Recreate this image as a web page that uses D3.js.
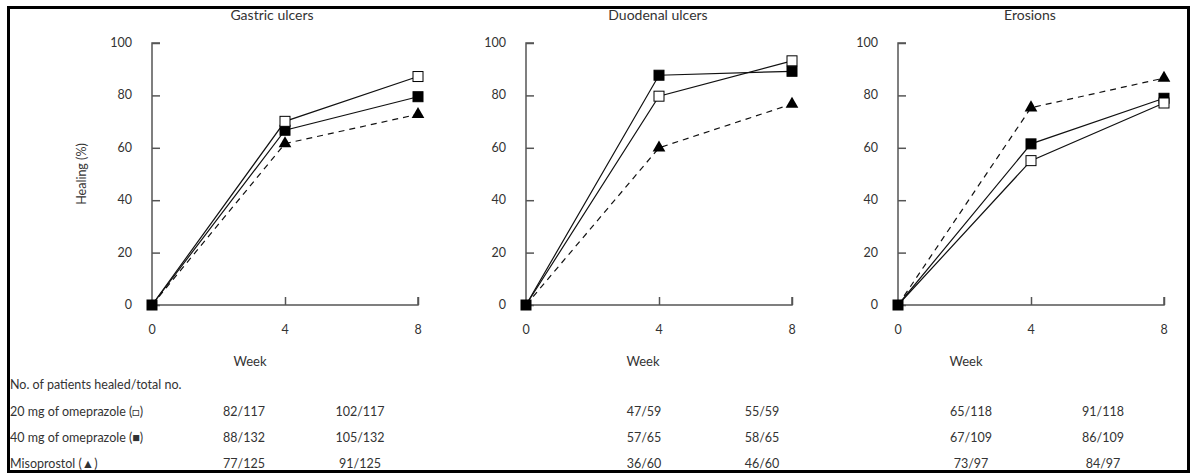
<!DOCTYPE html>
<html>
<head>
<meta charset="utf-8">
<script src="https://cdn.jsdelivr.net/npm/d3@7"></script>
<style>
  body { margin: 0; background: #fff; }
  text { font-family: Lato, "Open Sans", sans-serif; fill: #333; }
</style>
</head>
<body>
<script>
// data
const weeks = [0, 4, 8];
const panelTitles = ["Gastric ulcers", "Duodenal ulcers", "Erosions"];
const yTicks = [0, 20, 40, 60, 80, 100];

// healing (%) per panel, at weeks 0, 4, 8
const omeprazole20 = [[0, 70.1, 87.2], [0, 79.7, 93.2], [0, 55.1, 77.1]];
const omeprazole40 = [[0, 66.7, 79.5], [0, 87.7, 89.2], [0, 61.5, 78.9]];
const misoprostol = [[0, 61.6, 72.8], [0, 60.0, 76.7], [0, 75.3, 86.6]];

// table: healed/total at week 4 and week 8 for each panel
const tableHeader = "No. of patients healed/total no.";
const rowLabels = ["20 mg of omeprazole (\u25A1)", "40 mg of omeprazole (\u25A0)", "Misoprostol (\u25B2)"];
const counts20 = ["82/117", "102/117", "47/59", "55/59", "65/118", "91/118"];
const counts40 = ["88/132", "105/132", "57/65", "58/65", "67/109", "86/109"];
const countsMiso = ["77/125", "91/125", "36/60", "46/60", "73/97", "84/97"];

const width = 1193, height = 475;
const svg = d3.select("body").append("svg")
    .attr("width", width)
    .attr("height", height);

// outer frame
svg.append("rect")
    .attr("x", 8.5).attr("y", 7.5)
    .attr("width", 1180).attr("height", 464)
    .attr("fill", "none")
    .attr("stroke", "#000")
    .attr("stroke-width", 3);

const axisLeft = [152, 526, 898];
const plotW = 266;
const weekLabelX = [250, 643, 966];
const titleX = [272, 658, 1030];
const fs = 12.5;
const y = d3.scaleLinear().domain([0, 100]).range([305, 43]);

const series = [
    { values: omeprazole40, dash: null, marker: "filled" },
    { values: misoprostol, dash: "6,5", marker: "triangle" },
    { values: omeprazole20, dash: null, marker: "open" }
];

panelTitles.forEach((title, p) => {
    const x = d3.scaleLinear().domain([0, 8]).range([axisLeft[p], axisLeft[p] + plotW]);
    const g = svg.append("g");

    g.append("text")
        .attr("x", titleX[p])
        .attr("y", 20)
        .attr("text-anchor", "middle")
        .attr("font-size", 14)
        .text(title);

    // y axis, ticks pointing inward
    const yAxis = g.append("g")
        .attr("transform", `translate(${axisLeft[p]},0)`)
        .call(d3.axisRight(y).tickValues(yTicks).tickSize(8).tickFormat(""));
    yAxis.select(".domain").attr("d", `M8,${y(100)}H0V${y(0)}`);
    yAxis.selectAll("line, path").attr("stroke", "#555").attr("stroke-width", 1.5);
    g.selectAll(".ylab").data(yTicks).join("text")
        .attr("x", axisLeft[p] - 20)
        .attr("y", d => y(d) + 4)
        .attr("text-anchor", "end")
        .attr("font-size", fs)
        .text(d => d);

    // x axis, ticks pointing up
    const xAxis = g.append("g")
        .attr("transform", `translate(0,${y(0)})`)
        .call(d3.axisTop(x).tickValues([4, 8]).tickSize(8).tickFormat(""));
    xAxis.select(".domain").attr("d", `M${x(0)},0H${x(8)}V-8`);
    xAxis.selectAll("line, path").attr("stroke", "#555").attr("stroke-width", 1.5);
    g.selectAll(".xlab").data(weeks).join("text")
        .attr("x", d => x(d))
        .attr("y", 334)
        .attr("text-anchor", "middle")
        .attr("font-size", fs)
        .text(d => d);

    g.append("text")
        .attr("x", weekLabelX[p])
        .attr("y", 366)
        .attr("text-anchor", "middle")
        .attr("font-size", 13)
        .text("Week");

    const line = d3.line().x((d, i) => x(weeks[i])).y(d => y(d));

    series.forEach(s => {
        g.append("path")
            .datum(s.values[p])
            .attr("d", line)
            .attr("fill", "none")
            .attr("stroke", "#111")
            .attr("stroke-width", 1.2)
            .attr("stroke-dasharray", s.dash);
    });

    // markers
    series.forEach(s => {
        const pts = s.values[p].map((v, i) => [x(weeks[i]), y(v)]);
        if (s.marker === "triangle") {
            g.selectAll(null).data(pts.slice(1)).join("path")
                .attr("d", d3.symbol(d3.symbolTriangle, 70))
                .attr("transform", d => `translate(${d[0]},${d[1]})`)
                .attr("fill", "#000");
        } else {
            g.selectAll(null).data(pts.slice(s.marker === "open" ? 1 : 0)).join("rect")
                .attr("x", d => d[0] - 5)
                .attr("y", d => d[1] - 5)
                .attr("width", 10)
                .attr("height", 10)
                .attr("fill", s.marker === "open" ? "#fff" : "#000")
                .attr("stroke", "#000")
                .attr("stroke-width", 1);
        }
    });
});

// y axis label, first panel only
svg.append("text")
    .attr("transform", `translate(86,${(y(0) + y(100)) / 2}) rotate(-90)`)
    .attr("text-anchor", "middle")
    .attr("font-size", fs)
    .text("Healing (%)");

// table under the charts
const colX = [244, 360, 644, 762, 971, 1103];
const rowY = [416, 442, 468];
svg.append("text")
    .attr("x", 10).attr("y", 389)
    .attr("font-size", fs)
    .text(tableHeader);

[counts20, counts40, countsMiso].forEach((row, r) => {
    svg.append("text")
        .attr("x", 10).attr("y", rowY[r])
        .attr("font-size", fs)
        .text(rowLabels[r]);
    svg.selectAll(null).data(row).join("text")
        .attr("x", (d, i) => colX[i])
        .attr("y", rowY[r])
        .attr("text-anchor", "middle")
        .attr("font-size", fs)
        .text(d => d);
});
</script>
</body>
</html>
